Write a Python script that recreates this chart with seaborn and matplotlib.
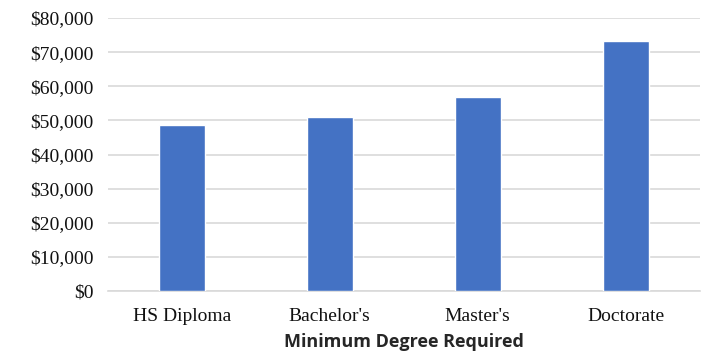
import matplotlib
matplotlib.use('Agg')
import matplotlib.pyplot as plt
import matplotlib.ticker as mticker
import seaborn as sns
import pandas as pd

degrees = ["HS Diploma", "Bachelor's", "Master's", "Doctorate"]
salaries = [48700, 51000, 56900, 73200]

df = pd.DataFrame({'degree': degrees, 'salary': salaries})

sns.set_style('white')
fig = plt.figure(figsize=(7.04, 3.54), dpi=100)
ax = fig.add_axes([0.153, 0.178, 0.841, 0.771])
sns.barplot(data=df, x='degree', y='salary', color='#4472C4', width=0.31,
            saturation=1, ax=ax, zorder=3)
ax.set_ylim(0, 80000)
ax.set_yticks(range(0, 80001, 10000))
ax.yaxis.set_major_formatter(mticker.FuncFormatter(lambda v, p: f'${v:,.0f}'))
ax.grid(axis='y', color='#d9d9d9', linewidth=1.2, zorder=0)
for s in ['top', 'right', 'left']:
    ax.spines[s].set_visible(False)
ax.spines['bottom'].set_color('#d9d9d9')
ax.spines['bottom'].set_linewidth(1.2)
ax.tick_params(axis='y', length=0, pad=10)
ax.tick_params(axis='x', length=0, pad=12)
for lab in ax.get_xticklabels() + ax.get_yticklabels():
    lab.set_family(['Liberation Serif', 'DejaVu Serif'])
    lab.set_fontsize(14)
    lab.set_color('#111111')
ax.set_xlabel('Minimum Degree Required', fontsize=13, fontweight='bold',
              family=['Open Sans', 'DejaVu Sans'], labelpad=6)
ax.set_ylabel('')
fig.savefig('out.png', dpi=100)
